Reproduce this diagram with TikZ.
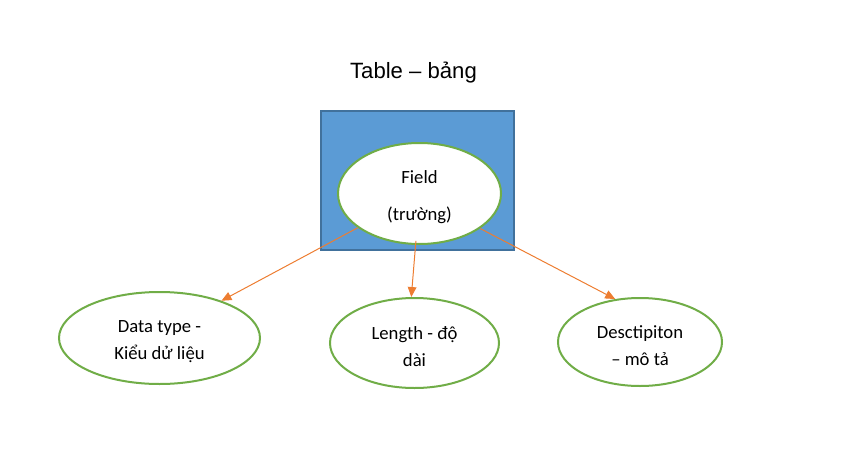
\documentclass[tikz,border=0pt]{standalone}
\usepackage{fontspec}
\setmainfont{Carlito}
\newfontfamily\arialf{Liberation Sans}
\usetikzlibrary{shapes.geometric,arrows.meta}
\definecolor{boxblue}{HTML}{5B9BD5}
\definecolor{boxedge}{HTML}{41719C}
\definecolor{ellgreen}{HTML}{70AD47}
\definecolor{arrorange}{HTML}{ED7D31}
\tikzset{
  ell/.style={ellipse, draw=ellgreen, line width=1.5pt, fill=white, inner sep=0pt},
  elltext/.style={inner sep=0pt, align=center, font=\fontsize{14}{20.25}\selectfont},
  conn/.style={draw=arrorange, line width=0.75pt, -{Triangle[length=7.5pt,width=6.5pt]}},
}
\begin{document}
\begin{tikzpicture}[x=0.75pt,y=-0.75pt]
\useasboundingbox (0,0) rectangle (843,450);
\node[font=\arialf\fontsize{16.6}{20}\selectfont] (title) at (413.5,73) {Table – bảng};
\node[draw=boxedge, fill=boxblue, line width=1.5pt, minimum width=193*0.75pt, minimum height=139*0.75pt, inner sep=0pt] (table) at (417.5,180.5) {};
\node[ell, minimum width=163*0.75pt, minimum height=101*0.75pt] (field) at (419.5,193.5) {};
\node[ell, minimum width=201*0.75pt, minimum height=92*0.75pt] (dtype) at (159.5,338) {};
\node[ell, minimum width=169*0.75pt, minimum height=90*0.75pt] (len) at (414.5,343) {};
\node[ell, minimum width=164*0.75pt, minimum height=88*0.75pt] (desc) at (640,342) {};
\node[elltext, font=\fontsize{14}{27.75}\selectfont] (fieldtext) at ([yshift=-3pt]field.center) {Field\\(trường)};
\node[elltext] (dtypetext) at ([yshift=-2.5pt]dtype.center) {Data type -\\Kiểu dử liệu};
\node[elltext] (lentext) at ([yshift=-2.5pt]len.center) {Length - độ\\dài};
\node[elltext] (desctext) at ([yshift=-2.5pt]desc.center) {Desctipiton\\– mô tả};
\draw[conn] (field.209) -- (dtype.31);
\draw[conn] ([yshift=3pt]field.266) -- (len.94);
\draw[conn] (field.330) -- (desc.120);
\end{tikzpicture}
\end{document}
